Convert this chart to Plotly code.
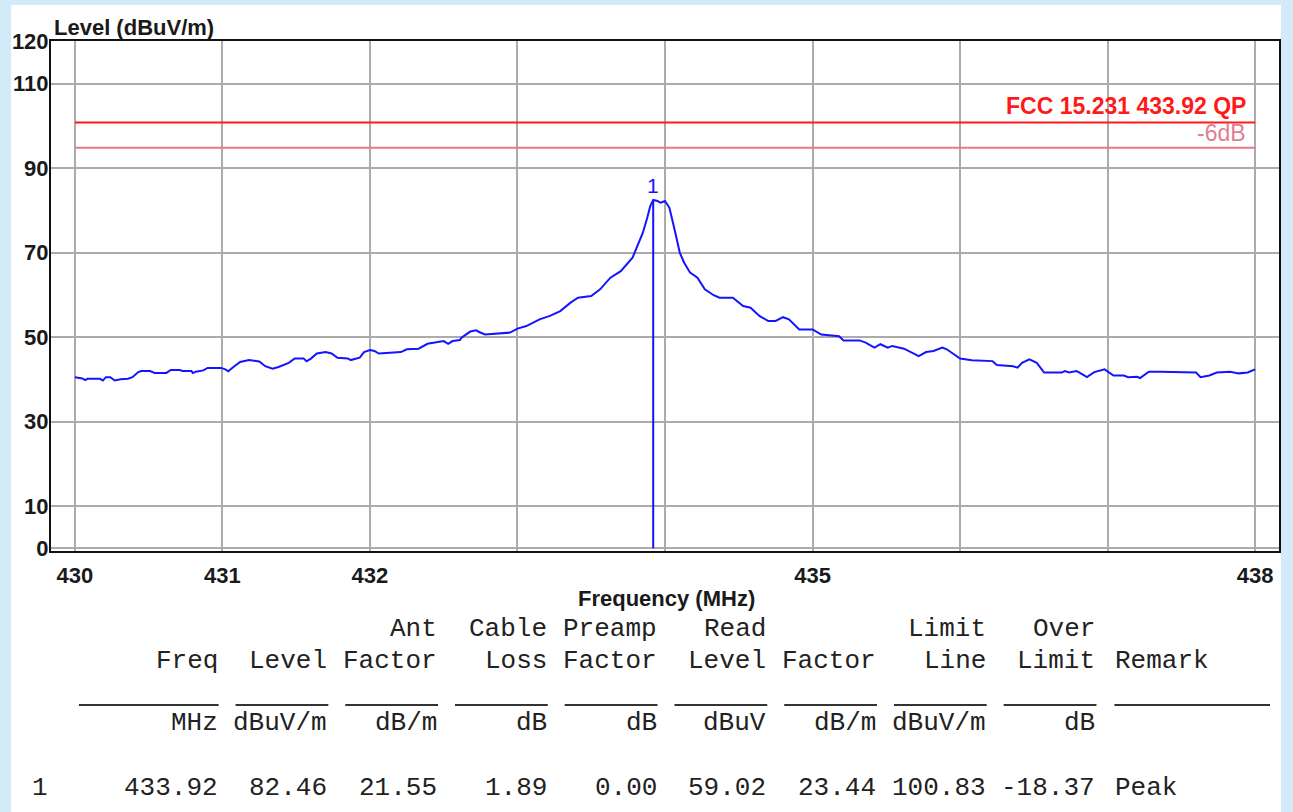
import plotly.graph_objects as go

# ---------------- data ----------------
freq_mhz = [
    430.00, 430.05, 430.07, 430.085, 430.17, 430.19, 430.21, 430.24, 430.27, 430.31,
    430.36, 430.39, 430.43, 430.45, 430.51, 430.54, 430.62, 430.65, 430.71, 430.73,
    430.79, 430.80, 430.82, 430.87, 430.90, 430.99, 431.02, 431.04, 431.07, 431.12,
    431.18, 431.25, 431.29, 431.34, 431.38, 431.45, 431.49, 431.55, 431.57, 431.60,
    431.64, 431.70, 431.74, 431.78, 431.85, 431.87, 431.93, 431.96, 432.00, 432.03,
    432.06, 432.21, 432.25, 432.33, 432.39, 432.50, 432.53, 432.56, 432.61, 432.62,
    432.68, 432.72, 432.74, 432.78, 432.95, 433.00, 433.06, 433.15, 433.22, 433.29,
    433.36, 433.41, 433.50, 433.56, 433.63, 433.70, 433.78, 433.81, 433.85, 433.88,
    433.90, 433.92, 433.95, 433.97, 434.00, 434.03, 434.05, 434.07, 434.10, 434.13,
    434.17, 434.22, 434.27, 434.33, 434.37, 434.46, 434.53, 434.58, 434.64, 434.70,
    434.75, 434.80, 434.84, 434.91, 435.00, 435.06, 435.18, 435.21, 435.32, 435.36,
    435.42, 435.46, 435.51, 435.54, 435.62, 435.67, 435.72, 435.77, 435.82, 435.88,
    435.91, 436.00, 436.08, 436.22, 436.25, 436.36, 436.39, 436.42, 436.47, 436.52,
    436.57, 436.69, 436.71, 436.74, 436.79, 436.81, 436.86, 436.91, 436.98, 437.04,
    437.11, 437.14, 437.20, 437.22, 437.28, 437.36, 437.60, 437.63, 437.69, 437.74,
    437.83, 437.89, 437.95, 438.00,
]
level_dbuv_m = [
    40.5, 40.2, 39.8, 40.1, 40.1, 39.7, 40.5, 40.5, 39.7, 40.0,
    40.15, 40.5, 41.7, 41.95, 41.95, 41.5, 41.5, 42.2, 42.2, 41.95,
    41.95, 41.5, 41.8, 42.1, 42.7, 42.7, 42.35, 41.9, 42.8, 44.1,
    44.55, 44.2, 43.1, 42.5, 42.9, 43.9, 44.95, 44.95, 44.25, 44.9,
    46.1, 46.45, 46.1, 45.1, 44.95, 44.55, 45.1, 46.45, 46.9, 46.7,
    46.1, 46.45, 47.1, 47.25, 48.4, 49.05, 48.4, 49.05, 49.3, 49.85,
    51.3, 51.6, 51.2, 50.6, 51.05, 52.0, 52.6, 54.2, 55.0, 56.15,
    58.15, 59.3, 59.7, 61.3, 64.05, 65.6, 68.8, 71.2, 74.7, 78.3,
    81.0, 82.46, 82.2, 81.8, 82.2, 80.6, 77.9, 74.7, 70.0, 67.6,
    65.25, 64.05, 61.3, 59.9, 59.3, 59.3, 57.35, 56.95, 55.0, 53.8,
    53.8, 54.7, 54.2, 51.8, 51.8, 50.6, 50.2, 49.2, 49.2, 48.7,
    47.5, 48.3, 47.5, 47.9, 47.25, 46.45, 45.5, 46.45, 46.7, 47.5,
    47.1, 44.9, 44.5, 44.3, 43.4, 43.1, 42.75, 43.9, 44.7, 43.9,
    41.6, 41.6, 41.95, 41.6, 41.95, 41.6, 40.5, 41.7, 42.35, 40.9,
    40.9, 40.5, 40.6, 40.3, 41.8, 41.8, 41.6, 40.5, 40.9, 41.6,
    41.8, 41.4, 41.6, 42.35,
]

limit_freqs = [430, 438]
limit_level = 100.83
limit_minus6 = 94.83
limit_label = "FCC 15.231 433.92 QP"
minus6_label = "-6dB"

marker_label = "1"
marker_freq = 433.92
marker_level = 82.46

y_tick_vals = [0, 10, 30, 50, 70, 90, 110, 120]
x_tick_vals = [430, 431, 432, 433, 434, 435, 436, 437, 438]
x_tick_text = ["430", "431", "432", "", "", "435", "", "", "438"]

table_head1 = ["", "", "Ant", "Cable", "Preamp", "Read", "", "Limit", "Over"]
table_head2 = ["Freq", "Level", "Factor", "Loss", "Factor", "Level", "Factor", "Line", "Limit"]
table_units = ["MHz", "dBuV/m", "dB/m", "dB", "dB", "dBuV", "dB/m", "dBuV/m", "dB"]
table_values = [433.92, 82.46, 21.55, 1.89, 0.00, 59.02, 23.44, 100.83, -18.37]
row_number = "1"
remark_head = "Remark"
remark_value = "Peak"

# ---------------- layout helpers ----------------
W, H = 1293, 812
L, R, T, B = 50, 1281, 41, 551


def px(x):
    return (x - L) / (R - L)


def py(y):
    return (B - y) / (B - T)


SANS = "Liberation Sans, Arial, sans-serif"

fig = go.Figure()

fig.add_trace(go.Scatter(x=limit_freqs, y=[limit_level] * 2, mode="lines",
                         line=dict(color="#ff1a1a", width=2), hoverinfo="skip"))
fig.add_trace(go.Scatter(x=limit_freqs, y=[limit_minus6] * 2, mode="lines",
                         line=dict(color="#e47a8e", width=2), hoverinfo="skip"))
fig.add_trace(go.Scatter(x=freq_mhz, y=level_dbuv_m, mode="lines",
                         line=dict(color="#1414ff", width=2)))
fig.add_trace(go.Scatter(x=[marker_freq, marker_freq], y=[0, marker_level], mode="lines",
                         line=dict(color="#1414ff", width=2), hoverinfo="skip"))

ann = []
ann.append(dict(x=437.95, y=104.7, xref="x", yref="y", text=limit_label, showarrow=False,
                xanchor="right", yanchor="middle",
                font=dict(family=SANS, size=23, color="#ff1a1a", weight="bold")))
ann.append(dict(x=437.95, y=98.4, xref="x", yref="y", text=minus6_label, showarrow=False,
                xanchor="right", yanchor="middle",
                font=dict(family=SANS, size=23, color="#e0808f")))
ann.append(dict(x=marker_freq, y=86.0, xref="x", yref="y", text=marker_label, showarrow=False,
                xanchor="center", yanchor="middle",
                font=dict(family=SANS, size=21, color="#1414ff")))
ann.append(dict(x=px(51), y=py(27), xref="paper", yref="paper", text="Level (dBuV/m)",
                showarrow=False, xanchor="left", yanchor="middle",
                font=dict(family=SANS, size=22, color="#1a1a1a", weight="bold")))
ann.append(dict(x=px(667), y=py(598), xref="paper", yref="paper", text="Frequency (MHz)",
                showarrow=False, xanchor="center", yanchor="middle",
                font=dict(family=SANS, size=22, color="#1a1a1a", weight="bold")))

mono = dict(family="Liberation Mono, Courier New, monospace", size=26, color="#222222")
rows = [(table_head1, 629), (table_head2, 661), (table_units, 723),
        ([f"{v:.2f}" for v in table_values], 788)]
for labels, ypix in rows:
    for i, t in enumerate(labels):
        if not t:
            continue
        ann.append(dict(x=px(219 + 110 * i), y=py(ypix), xref="paper", yref="paper", text=t,
                        showarrow=False, xanchor="right", yanchor="middle", font=mono))
ann.append(dict(x=px(1115), y=py(661), xref="paper", yref="paper", text=remark_head,
                showarrow=False, xanchor="left", yanchor="middle", font=mono))
ann.append(dict(x=px(1115), y=py(788), xref="paper", yref="paper", text=remark_value,
                showarrow=False, xanchor="left", yanchor="middle", font=mono))
ann.append(dict(x=px(29), y=py(788), xref="paper", yref="paper", text=row_number,
                showarrow=False, xanchor="left", yanchor="middle", font=mono))

shapes = []
shapes.append(dict(type="rect", xref="paper", yref="paper", x0=px(10), x1=px(1283),
                   y0=py(5), y1=py(812), fillcolor="white", line=dict(width=0), layer="below"))
for i in range(len(table_units)):
    x1 = 218 + 110 * i
    x0 = 78 if i == 0 else x1 - 93
    shapes.append(dict(type="line", xref="paper", yref="paper", x0=px(x0), x1=px(x1),
                       y0=py(705), y1=py(705), line=dict(color="#333333", width=2)))
shapes.append(dict(type="line", xref="paper", yref="paper", x0=px(1116), x1=px(1272),
                   y0=py(705), y1=py(705), line=dict(color="#333333", width=2)))

fig.update_layout(
    width=W, height=H,
    margin=dict(l=L, r=W - R, t=T, b=H - B, pad=0),
    paper_bgcolor="#d3eaf8",
    plot_bgcolor="white",
    showlegend=False,
    annotations=ann,
    shapes=shapes,
    xaxis=dict(range=[429.838, 438.162], tickvals=x_tick_vals, ticktext=x_tick_text,
               showgrid=True, gridcolor="#ababab", gridwidth=1.5, zeroline=False,
               showline=True, linecolor="#111111", linewidth=2, mirror=True,
               ticks="", ticklabelstandoff=4,
               tickfont=dict(family=SANS, size=22, color="#1a1a1a", weight="bold")),
    yaxis=dict(range=[-0.66, 120.1], tickvals=y_tick_vals,
               showgrid=True, gridcolor="#ababab", gridwidth=1.5, zeroline=False,
               showline=True, linecolor="#111111", linewidth=2, mirror=True,
               ticks="", ticklabelstandoff=-4,
               tickfont=dict(family=SANS, size=22, color="#1a1a1a", weight="bold")),
)

fig.write_html(
    "out.html",
    config={"displayModeBar": False},
    post_script="document.body.style.margin='0';document.body.style.overflow='hidden';",
)
